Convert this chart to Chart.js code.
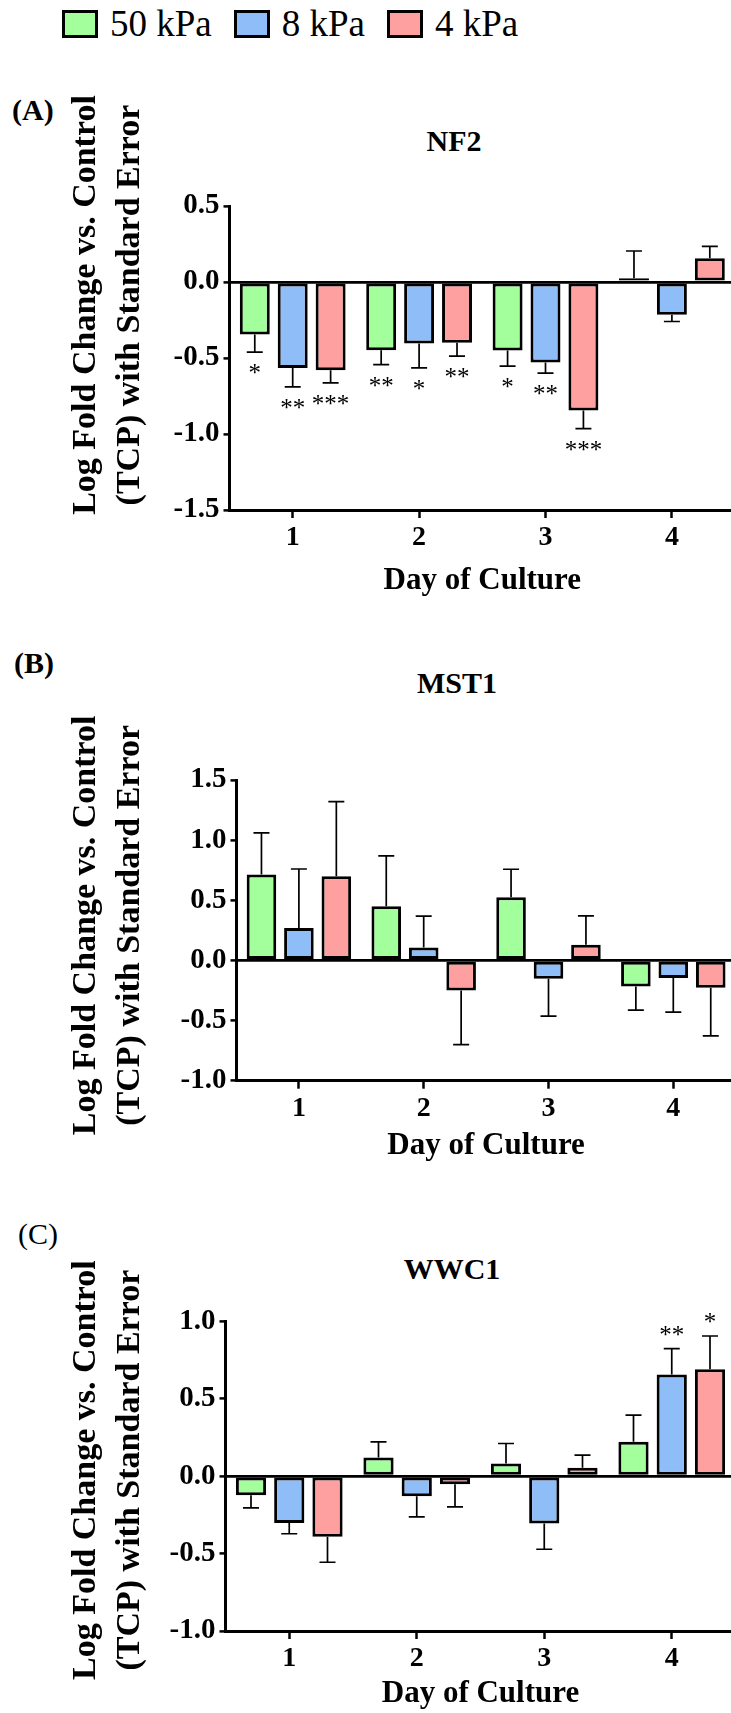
<!DOCTYPE html>
<html>
<head>
<meta charset="utf-8">
<script src="https://cdn.jsdelivr.net/npm/chart.js@4.4.1/dist/chart.umd.min.js"></script>
<style>
  html, body { margin: 0; padding: 0; background: #fff; overflow: hidden; }
  #page { position: relative; width: 731px; height: 1713px; overflow: hidden;
          font-family: "Liberation Serif", "Times New Roman", serif; color: #000; }
  #page canvas { position: absolute; left: 0; }
  .lbl { position: absolute; font-size: 30px; line-height: 30px; font-weight: bold; white-space: nowrap; }
  .ttl { position: absolute; width: 240px; text-align: center; font-size: 30px; line-height: 30px; font-weight: bold; }
  #legend { position: absolute; left: 62px; top: 5px; height: 37px; display: flex; align-items: center;
            font-size: 37px; line-height: 37px; white-space: nowrap; }
  .item { display: flex; align-items: center; margin-right: 22px; }
  .box { width: 36px; height: 28px; box-sizing: border-box; border: 3px solid #000; margin-right: 12px; }
</style>
</head>
<body>
<div id="page">
  <div id="legend"></div>

  <div class="lbl" style="left:12px;top:95px">(A)</div>
  <div class="ttl" style="left:334px;top:126px">NF2</div>
  <canvas id="chartA" width="745" height="540" style="top:80px"></canvas>

  <div class="lbl" style="left:14px;top:648px">(B)</div>
  <div class="ttl" style="left:337px;top:668px">MST1</div>
  <canvas id="chartB" width="745" height="540" style="top:650px"></canvas>

  <div class="lbl" style="left:18px;top:1219px;font-weight:normal">(C)</div>
  <div class="ttl" style="left:332px;top:1254px">WWC1</div>
  <canvas id="chartC" width="745" height="523" style="top:1190px"></canvas>
</div>

<script>
// du lieu doc tu hinh
const days = ["1", "2", "3", "4"];
const seriesNames = ["50 kPa", "8 kPa", "4 kPa"];
const seriesColors = ["#a2ff9c", "#8fbdf7", "#ffa0a0"];
const yTitle = ["Log Fold Change vs. Control", "(TCP) with Standard Error"];

// NF2
const nf2_50 = [-0.345, -0.449, -0.451, 0.024];
const nf2_8 = [-0.565, -0.405, -0.530, -0.215];
const nf2_4 = [-0.580, -0.400, -0.845, 0.156];
const nf2_50_err = [0.117, 0.094, 0.103, 0.180];
const nf2_8_err = [0.125, 0.160, 0.070, 0.045];
const nf2_4_err = [0.084, 0.088, 0.120, 0.078];
const nf2_50_sig = ["*", "**", "*", ""];
const nf2_8_sig = ["**", "*", "**", ""];
const nf2_4_sig = ["***", "**", "***", ""];
const nf2_ticks = [0.5, 0.0, -0.5, -1.0, -1.5];

// MST1
const mst1_50 = [0.714, 0.450, 0.525, -0.217];
const mst1_8 = [0.270, 0.108, -0.153, -0.147];
const mst1_4 = [0.700, -0.250, 0.131, -0.228];
const mst1_50_err = [0.347, 0.420, 0.233, 0.197];
const mst1_8_err = [0.490, 0.260, 0.310, 0.283];
const mst1_4_err = [0.620, 0.450, 0.240, 0.400];
const mst1_ticks = [1.5, 1.0, 0.5, 0.0, -0.5, -1.0];

// WWC1
const wwc1_50 = [-0.123, 0.121, 0.082, 0.222];
const wwc1_8 = [-0.302, -0.129, -0.306, 0.657];
const wwc1_4 = [-0.392, -0.052, 0.054, 0.690];
const wwc1_50_err = [0.082, 0.100, 0.129, 0.172];
const wwc1_8_err = [0.070, 0.134, 0.166, 0.166];
const wwc1_4_err = [0.164, 0.146, 0.082, 0.215];
const wwc1_8_sig = ["", "", "", "**"];
const wwc1_4_sig = ["", "", "", "*"];
const wwc1_ticks = [1.0, 0.5, 0.0, -0.5, -1.0];

const noSig = ["", "", "", ""];

const fontFam = '"Liberation Serif", "Times New Roman", serif';
Chart.defaults.font.family = fontFam;
Chart.defaults.color = "#000";

// legend html
const legend = document.getElementById("legend");
seriesNames.forEach((name, i) => {
  const item = document.createElement("div");
  item.className = "item";
  const box = document.createElement("div");
  box.className = "box";
  box.style.background = seriesColors[i];
  item.appendChild(box);
  item.appendChild(document.createTextNode(name));
  legend.appendChild(item);
});

// ve error bar + dau sao
const errorBars = {
  id: "errorBars",
  afterDatasetsDraw(chart) {
    const ctx = chart.ctx;
    const yScale = chart.scales.y;
    chart.data.datasets.forEach((ds, i) => {
      const meta = chart.getDatasetMeta(i);
      meta.data.forEach((bar, j) => {
        const v = ds.data[j];
        const dir = v >= 0 ? 1 : -1;
        const y0 = yScale.getPixelForValue(v);
        const y1 = yScale.getPixelForValue(v + dir * ds.err[j]);
        ctx.save();
        ctx.strokeStyle = "#000";
        ctx.lineWidth = 1.7;
        ctx.beginPath();
        ctx.moveTo(bar.x, y0);
        ctx.lineTo(bar.x, y1);
        ctx.moveTo(bar.x - 8, y1);
        ctx.lineTo(bar.x + 8, y1);
        ctx.stroke();
        const s = ds.sig[j];
        if (s) {
          ctx.fillStyle = "#000";
          ctx.font = "25px " + fontFam;
          ctx.textAlign = "center";
          ctx.textBaseline = "alphabetic";
          const cy = dir < 0 ? y1 + 17 : y1 - 18;
          ctx.fillText(s, bar.x, cy + 12);
        }
        ctx.restore();
      });
    });
  }
};

// tieu de truc y (2 dong, xoay doc)
const yTitlePlugin = {
  id: "yTitle",
  afterDraw(chart, args, opts) {
    const ctx = chart.ctx;
    const area = chart.chartArea;
    const cy = (area.top + area.bottom) / 2 + opts.shift;
    ctx.save();
    ctx.fillStyle = "#000";
    ctx.font = "bold 34px " + fontFam;
    ctx.textAlign = "center";
    ctx.textBaseline = "middle";
    opts.lines.forEach((t, k) => {
      ctx.save();
      ctx.translate(opts.x + k * opts.gap, cy);
      ctx.rotate(-Math.PI / 2);
      ctx.fillText(t, 0, 0);
      ctx.restore();
    });
    ctx.restore();
  }
};

function makeChart(id, p, values, errs, sigs, yTicks) {
  const datasets = seriesNames.map((name, i) => ({
    label: name,
    data: values[i],
    err: errs[i],
    sig: sigs[i],
    backgroundColor: seriesColors[i],
    borderColor: "#000",
    borderWidth: 3,
    borderSkipped: false,
    categoryPercentage: 0.9,
    barPercentage: 0.79
  }));

  return new Chart(document.getElementById(id), {
    type: "bar",
    data: { labels: days, datasets: datasets },
    options: {
      responsive: false,
      animation: false,
      layout: { padding: { left: 40, top: p.padTop, right: 745 - p.right, bottom: 0 } },
      plugins: {
        legend: { display: false },
        tooltip: { enabled: false },
        yTitle: { lines: yTitle, x: 86, gap: 44, shift: p.titleShift }
      },
      scales: {
        x: {
          grid: { drawOnChartArea: false, offset: false, tickLength: 8, tickColor: "#000", tickWidth: 2.5 },
          border: { color: "#000", width: 3 },
          ticks: { color: "#000", padding: 3, maxRotation: 0, font: { size: 28, weight: "bold" } },
          title: {
            display: true, text: "Day of Culture", color: "#000",
            font: { size: 31, weight: "bold", lineHeight: 1.2 },
            padding: { top: 0, bottom: p.xTitlePad }
          },
          afterFit: s => { s.height = p.xAxisH; }
        },
        y: {
          min: yTicks[yTicks.length - 1],
          max: yTicks[0],
          afterBuildTicks: s => { s.ticks = yTicks.map(v => ({ value: v })); },
          grid: {
            color: c => (c.tick && c.tick.value === 0 ? "#000" : "rgba(0,0,0,0)"),
            lineWidth: 2.8, tickLength: 6, tickColor: "#000", tickWidth: 2.5
          },
          border: { color: "#000", width: 3 },
          ticks: { color: "#000", padding: 4, font: { size: 29, weight: "bold" }, callback: v => Number(v).toFixed(1) },
          title: { display: false },
          afterFit: s => { s.width = p.left - 40; }
        }
      }
    },
    plugins: [errorBars, yTitlePlugin]
  });
}

// A: NF2
makeChart("chartA",
  { padTop: 126, left: 229.5, right: 735.1, xAxisH: 110, xTitlePad: 20, titleShift: -53 },
  [nf2_50, nf2_8, nf2_4], [nf2_50_err, nf2_8_err, nf2_4_err],
  [nf2_50_sig, nf2_8_sig, nf2_4_sig], nf2_ticks);

// B: MST1
makeChart("chartB",
  { padTop: 130, left: 236.5, right: 735.7, xAxisH: 109.3, xTitlePad: 25, titleShift: -5 },
  [mst1_50, mst1_8, mst1_4], [mst1_50_err, mst1_8_err, mst1_4_err],
  [noSig, noSig, noSig], mst1_ticks);

// C: WWC1
makeChart("chartC",
  { padTop: 131.3, left: 225.5, right: 735.5, xAxisH: 82, xTitlePad: 0, titleShift: -6 },
  [wwc1_50, wwc1_8, wwc1_4], [wwc1_50_err, wwc1_8_err, wwc1_4_err],
  [noSig, wwc1_8_sig, wwc1_4_sig], wwc1_ticks);
</script>
</body>
</html>
